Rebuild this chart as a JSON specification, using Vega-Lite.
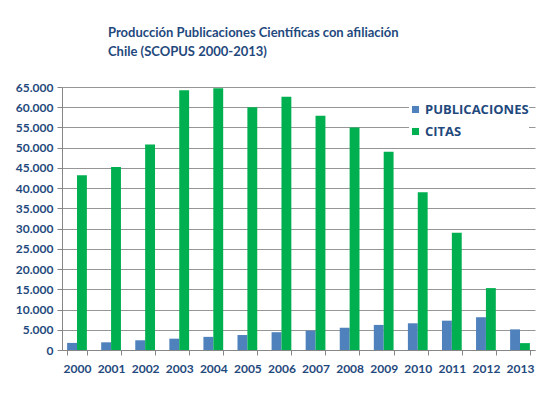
{
  "$schema": "https://vega.github.io/schema/vega-lite/v6.json",
  "autosize": {"type": "none"},
  "width": 473,
  "height": 263,
  "padding": {"left": 62, "top": 87, "right": 25, "bottom": 48},
  "background": "white",
  "title": {
    "text": ["Producción Publicaciones Científicas con afiliación", "Chile (SCOPUS 2000-2013)"],
    "anchor": "start",
    "frame": "group",
    "dx": 46,
    "offset": 22,
    "font": "Lato",
    "fontSize": 13,
    "fontWeight": "bold",
    "color": "#1f497d",
    "lineHeight": 19
  },
  "data": {
    "values": [
      {"year": "2000", "serie": "PUBLICACIONES", "valor": 1750},
      {"year": "2000", "serie": "CITAS", "valor": 43200},
      {"year": "2001", "serie": "PUBLICACIONES", "valor": 1900},
      {"year": "2001", "serie": "CITAS", "valor": 45200},
      {"year": "2002", "serie": "PUBLICACIONES", "valor": 2400},
      {"year": "2002", "serie": "CITAS", "valor": 50800},
      {"year": "2003", "serie": "PUBLICACIONES", "valor": 2800},
      {"year": "2003", "serie": "CITAS", "valor": 64200},
      {"year": "2004", "serie": "PUBLICACIONES", "valor": 3250},
      {"year": "2004", "serie": "CITAS", "valor": 64700},
      {"year": "2005", "serie": "PUBLICACIONES", "valor": 3700},
      {"year": "2005", "serie": "CITAS", "valor": 60000},
      {"year": "2006", "serie": "PUBLICACIONES", "valor": 4400},
      {"year": "2006", "serie": "CITAS", "valor": 62600},
      {"year": "2007", "serie": "PUBLICACIONES", "valor": 4800},
      {"year": "2007", "serie": "CITAS", "valor": 57900},
      {"year": "2008", "serie": "PUBLICACIONES", "valor": 5500},
      {"year": "2008", "serie": "CITAS", "valor": 55000},
      {"year": "2009", "serie": "PUBLICACIONES", "valor": 6200},
      {"year": "2009", "serie": "CITAS", "valor": 49000},
      {"year": "2010", "serie": "PUBLICACIONES", "valor": 6600},
      {"year": "2010", "serie": "CITAS", "valor": 39000},
      {"year": "2011", "serie": "PUBLICACIONES", "valor": 7250},
      {"year": "2011", "serie": "CITAS", "valor": 29000},
      {"year": "2012", "serie": "PUBLICACIONES", "valor": 8100},
      {"year": "2012", "serie": "CITAS", "valor": 15300},
      {"year": "2013", "serie": "PUBLICACIONES", "valor": 5100},
      {"year": "2013", "serie": "CITAS", "valor": 1700}
    ]
  },
  "mark": {"type": "bar", "stroke": null},
  "encoding": {
    "x": {
      "field": "year",
      "type": "nominal",
      "scale": {"paddingInner": 0.42, "paddingOuter": 0.15},
      "axis": {
        "title": null,
        "labelAngle": 0,
        "tickBand": "extent",
        "labelFont": "Lato",
        "labelFontSize": 12,
        "labelFontWeight": "bold",
        "labelColor": "#1f497d",
        "labelPadding": 8,
        "domainColor": "#868686",
        "tickColor": "#868686",
        "tickSize": 5
      }
    },
    "xOffset": {
      "field": "serie",
      "type": "nominal",
      "sort": ["PUBLICACIONES", "CITAS"],
      "scale": {"paddingInner": 0, "paddingOuter": 0}
    },
    "y": {
      "field": "valor",
      "type": "quantitative",
      "scale": {"domain": [0, 65000], "nice": false},
      "axis": {
        "title": null,
        "values": [0, 5000, 10000, 15000, 20000, 25000, 30000, 35000, 40000, 45000, 50000, 55000, 60000, 65000],
        "format": ",d",
        "labelFont": "Lato",
        "labelFontSize": 12,
        "labelFontWeight": "bold",
        "labelColor": "#1f497d",
        "labelPadding": 4,
        "domainColor": "#868686",
        "tickColor": "#868686",
        "tickSize": 5,
        "gridColor": "#969696",
        "gridWidth": 1.2
      }
    },
    "color": {
      "field": "serie",
      "type": "nominal",
      "sort": ["PUBLICACIONES", "CITAS"],
      "scale": {"domain": ["PUBLICACIONES", "CITAS"], "range": ["#4f81bd", "#00b050"]},
      "legend": {
        "title": null,
        "orient": "none",
        "legendX": 347,
        "legendY": 16,
        "symbolType": "square",
        "symbolSize": 50,
        "symbolStrokeWidth": 0,
        "labelFont": "Open Sans",
        "labelFontSize": 13,
        "labelFontWeight": "bold",
        "labelColor": "#1f497d",
        "labelOffset": 3,
        "rowPadding": 8,
        "fillColor": "white"
      }
    }
  },
  "config": {
    "locale": {"number": {"decimal": ",", "thousands": ".", "grouping": [3], "currency": ["$", ""]}},
    "view": {"stroke": null}
  }
}
